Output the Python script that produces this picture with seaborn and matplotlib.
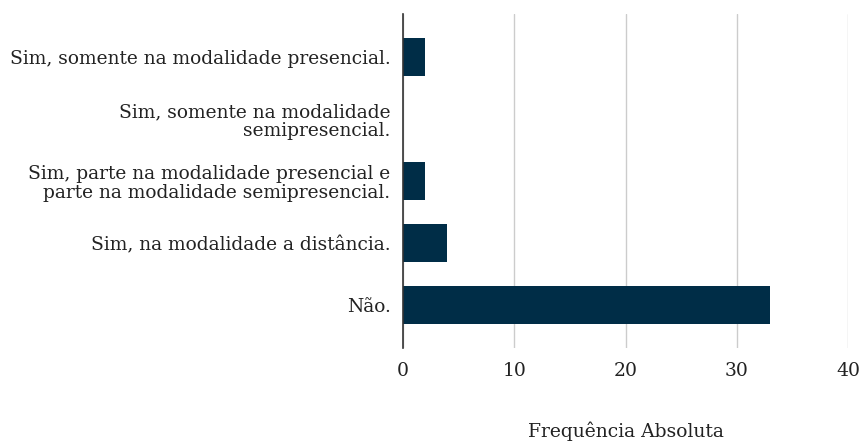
import matplotlib
matplotlib.use("Agg")
import matplotlib.pyplot as plt
import seaborn as sns
import pandas as pd

categories = [
    "Sim, somente na modalidade presencial.",
    "Sim, somente na modalidade\nsemipresencial.",
    "Sim, parte na modalidade presencial e\nparte na modalidade semipresencial.",
    "Sim, na modalidade a distância.",
    "Não.",
]
values = [2, 0, 2, 4, 33]
xticks = [0, 10, 20, 30, 40]

sns.set_theme(style="white")
plt.rcParams["font.family"] = ["DejaVu Serif"]

df = pd.DataFrame({"cat": categories, "val": values})

fig = plt.figure(figsize=(8.62, 4.45), dpi=100)
ax = fig.add_axes([0.4675, 0.218, 0.5163, 0.7505])
sns.barplot(data=df, y="cat", x="val", orient="h", color="#002D47",
            saturation=1, width=0.61, linewidth=0, ax=ax)
ax.set_xlim(0, 40)
ax.set_ylim(4.69, -0.69)
ax.set_xticks(xticks)
ax.set_xticklabels([str(t) for t in xticks], fontsize=13.5, color="#222222")
ax.tick_params(axis="y", labelsize=13.4, colors="#222222", length=0, pad=9)
ax.tick_params(axis="x", length=0, pad=10)
for lbl in ax.get_yticklabels():
    lbl.set_multialignment("right")
    lbl.set_linespacing(1.05)
ax.xaxis.grid(True, color="#cccccc", linewidth=1)
ax.set_axisbelow(True)
for s in ["top", "right", "bottom"]:
    ax.spines[s].set_visible(False)
ax.spines["left"].set_color("#333333")
ax.spines["left"].set_linewidth(1.2)
ax.set_ylabel("")
ax.set_xlabel("Frequência Absoluta", fontsize=13.5, color="#222222", labelpad=30)

fig.savefig("out.png", dpi=100)
